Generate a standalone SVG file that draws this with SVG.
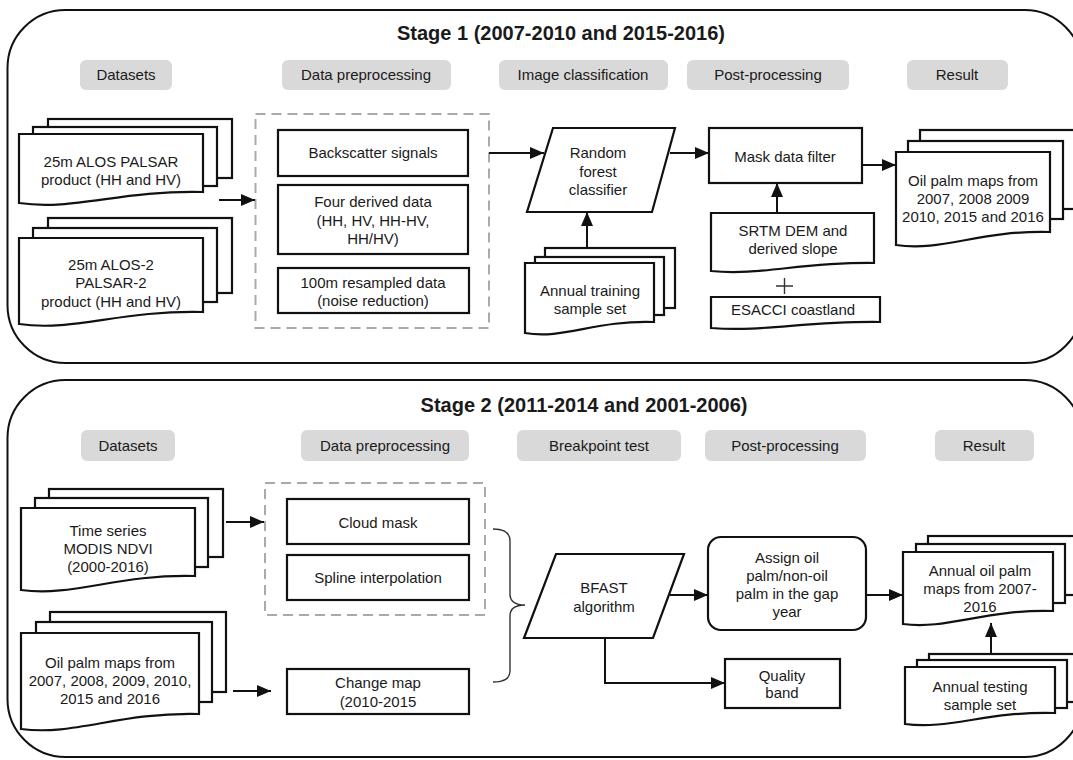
<svg xmlns="http://www.w3.org/2000/svg" width="1073" height="760" viewBox="0 0 1073 760">
<defs>
<style>
text{font-family:"Liberation Sans",Arial,sans-serif;font-size:15px;fill:#1a1a1a;text-anchor:middle}
.title{font-size:20px;font-weight:bold}
.frame{fill:none;stroke:#111;stroke-width:2}
.pill{fill:#d9d9d9;stroke:none}
.box{fill:#fff;stroke:#111;stroke-width:2.2}
.dash{fill:none;stroke:#aaa;stroke-width:2;stroke-dasharray:10 6}
.conn{fill:none;stroke:#111;stroke-width:2}
.thin{fill:none;stroke:#333;stroke-width:1.4}
</style>
<marker id="ah" markerUnits="userSpaceOnUse" markerWidth="15" markerHeight="13" refX="14" refY="6" orient="auto">
<path d="M0,0 L14,6 L0,12 z" fill="#111"/>
</marker>
</defs>
<rect width="1073" height="760" fill="#fff"/>

<g id="stage1">
<rect class="frame" x="7.5" y="10" width="1075" height="353" rx="58" ry="58"/>
<text class="title" x="561" y="40">Stage 1 (2007-2010 and 2015-2016)</text>
</g>
<g id="stage2">
<rect class="frame" x="7.5" y="380" width="1075" height="377" rx="58" ry="58"/>
<text class="title" x="584" y="412">Stage 2 (2011-2014 and 2001-2006)</text>
</g>

<g id="headers1">
<rect class="pill" x="80" y="60" width="92" height="30" rx="6"/><text x="126" y="80">Datasets</text>
<rect class="pill" x="282" y="60" width="169" height="30" rx="6"/><text x="366" y="80">Data preprocessing</text>
<rect class="pill" x="499" y="60" width="169" height="30" rx="6"/><text x="583" y="80">Image classification</text>
<rect class="pill" x="687" y="60" width="162" height="30" rx="6"/><text x="768" y="80">Post-processing</text>
<rect class="pill" x="907" y="60" width="101" height="30" rx="6"/><text x="957" y="80">Result</text>
</g>
<g id="headers2">
<rect class="pill" x="81" y="430" width="94" height="31" rx="6"/><text x="128" y="451">Datasets</text>
<rect class="pill" x="301" y="430" width="168" height="31" rx="6"/><text x="385" y="451">Data preprocessing</text>
<rect class="pill" x="517" y="430" width="164" height="31" rx="6"/><text x="599" y="451">Breakpoint test</text>
<rect class="pill" x="705" y="430" width="161" height="31" rx="6"/><text x="785" y="451">Post-processing</text>
<rect class="pill" x="935" y="430" width="99" height="31" rx="6"/><text x="984" y="451">Result</text>
</g>

<g id="alos-palsar">
<rect class="box" x="48" y="119" width="184" height="59"/>
<rect class="box" x="33" y="127" width="184" height="59"/>
<path class="box" d="M19,134 H203 V192 C120,190 74,211 19,203 Z"/>
<text x="111" y="167">25m ALOS PALSAR</text>
<text x="111" y="185">product (HH and HV)</text>
</g>
<g id="alos2">
<rect class="box" x="48" y="218" width="184" height="75"/>
<rect class="box" x="33" y="228" width="184" height="74"/>
<path class="box" d="M19,238 H203 V312 C120,310 74,332 19,324 Z"/>
<text x="111" y="270">25m ALOS-2</text>
<text x="111" y="288">PALSAR-2</text>
<text x="111" y="307">product (HH and HV)</text>
</g>

<g id="preproc1">
<rect class="dash" x="255.5" y="114" width="233.5" height="214"/>
<rect class="box" x="278" y="130" width="190" height="46"/>
<text x="373" y="158">Backscatter signals</text>
<rect class="box" x="278" y="185" width="190" height="69"/>
<text x="373" y="207">Four derived data</text>
<text x="373" y="226">(HH, HV, HH-HV,</text>
<text x="373" y="244">HH/HV)</text>
<rect class="box" x="278" y="268" width="191" height="45"/>
<text x="373" y="288">100m resampled data</text>
<text x="373" y="306">(noise reduction)</text>
</g>

<g id="random-forest">
<polygon class="box" points="553,128 675,128 652,212 527,212"/>
<text x="598" y="158">Random</text>
<text x="598" y="177">forest</text>
<text x="598" y="195">classifier</text>
</g>
<g id="training">
<rect class="box" x="545" y="248" width="130" height="60"/>
<rect class="box" x="535" y="257" width="129" height="58"/>
<path class="box" d="M525,263 H654 V322 C595,320 563,340 525,333 Z"/>
<text x="590" y="296">Annual training</text>
<text x="590" y="314">sample set</text>
</g>

<g id="mask">
<rect class="box" x="709" y="128" width="153" height="55"/>
<text x="785" y="162">Mask data filter</text>
</g>
<g id="srtm">
<path class="box" d="M711,213 H874 V263 C800,262 760,276 711,271 Z"/>
<text x="793" y="236">SRTM DEM and</text>
<text x="793" y="254">derived slope</text>
</g>
<g id="plus">
<path class="thin" d="M776,286 H793 M784.5,278 V294" stroke-width="1.6"/>
</g>
<g id="esacci">
<path class="box" d="M711,297 H880 V322 C805,321 765,332 711,328 Z"/>
<text x="793" y="315">ESACCI coastland</text>
</g>

<g id="result1">
<rect class="box" x="920" y="130" width="200" height="79"/>
<rect class="box" x="908" y="141" width="155" height="78"/>
<path class="box" d="M896,152 H1050 V232 C980,230 942,252 896,245 Z"/>
<text x="973" y="186">Oil palm maps from</text>
<text x="973" y="204">2007, 2008 2009</text>
<text x="973" y="222">2010, 2015 and 2016</text>
</g>

<g id="modis">
<rect class="box" x="49" y="489" width="174" height="68"/>
<rect class="box" x="35" y="498" width="173" height="69"/>
<path class="box" d="M21,508 H195 V576 C117,574 74,597 21,590 Z"/>
<text x="108" y="536">Time series</text>
<text x="108" y="554">MODIS NDVI</text>
<text x="108" y="572">(2000-2016)</text>
</g>
<g id="oilpalm-in">
<rect class="box" x="50" y="612" width="176" height="80"/>
<rect class="box" x="36" y="622" width="176" height="80"/>
<path class="box" d="M21,633 H199 V714 C119,712 75,736 21,729 Z"/>
<text x="110" y="668">Oil palm maps from</text>
<text x="110" y="686">2007, 2008, 2009, 2010,</text>
<text x="110" y="704">2015 and 2016</text>
</g>

<g id="preproc2">
<rect class="dash" x="265" y="483" width="220" height="132"/>
<rect class="box" x="287" y="499" width="182" height="45"/>
<text x="378" y="528">Cloud mask</text>
<rect class="box" x="287" y="555" width="182" height="45"/>
<text x="378" y="583">Spline interpolation</text>
</g>
<g id="change-map">
<rect class="box" x="287" y="669" width="182" height="45"/>
<text x="378" y="688">Change map</text>
<text x="378" y="707">(2010-2015</text>
</g>

<g id="brace">
<path class="thin" d="M493,529 Q510,529 510,541 V594 Q510,605 525,605 Q510,605 510,616 V671 Q510,682 493,682"/>
</g>

<g id="bfast">
<polygon class="box" points="556,554 684,554 653,638 524,638"/>
<text x="604" y="593">BFAST</text>
<text x="604" y="612">algorithm</text>
</g>
<g id="assign">
<rect class="box" x="708" y="537" width="158" height="93" rx="13"/>
<text x="787" y="563">Assign oil</text>
<text x="787" y="581">palm/non-oil</text>
<text x="787" y="599">palm in the gap</text>
<text x="787" y="617">year</text>
</g>
<g id="quality">
<rect class="box" x="725" y="659" width="115" height="49"/>
<text x="782" y="681">Quality</text>
<text x="782" y="698">band</text>
</g>
<g id="annual-maps">
<rect class="box" x="928" y="536" width="200" height="59"/>
<rect class="box" x="916" y="544" width="149" height="59"/>
<path class="box" d="M903,552 H1053 V611 C985,609 947,630 903,624 Z"/>
<text x="980" y="576">Annual oil palm</text>
<text x="980" y="594">maps from 2007-</text>
<text x="980" y="612">2016</text>
</g>
<g id="testing">
<rect class="box" x="929" y="654" width="200" height="48"/>
<rect class="box" x="917" y="660" width="150" height="48"/>
<path class="box" d="M905,667 H1055 V713 C987,711 949,730 905,724 Z"/>
<text x="980" y="692">Annual testing</text>
<text x="980" y="710">sample set</text>
</g>

<g id="connectors">
<path class="conn" d="M219,200 H255" marker-end="url(#ah)"/>
<path class="conn" d="M489,153 H544" marker-end="url(#ah)"/>
<path class="conn" d="M670,153 H709" marker-end="url(#ah)"/>
<path class="conn" d="M862,165 H896" marker-end="url(#ah)"/>
<path class="conn" d="M587,248 V212" marker-end="url(#ah)"/>
<path class="conn" d="M777,213 V183" marker-end="url(#ah)"/>
<path class="conn" d="M226,522 H264" marker-end="url(#ah)"/>
<path class="conn" d="M233,691 H271" marker-end="url(#ah)"/>
<path class="conn" d="M670,595 H708" marker-end="url(#ah)"/>
<path class="conn" d="M866,595 H903" marker-end="url(#ah)"/>
<path class="conn" d="M605,638 V683 H725" marker-end="url(#ah)"/>
<path class="conn" d="M991,654 V623" marker-end="url(#ah)"/>
</g>
</svg>
